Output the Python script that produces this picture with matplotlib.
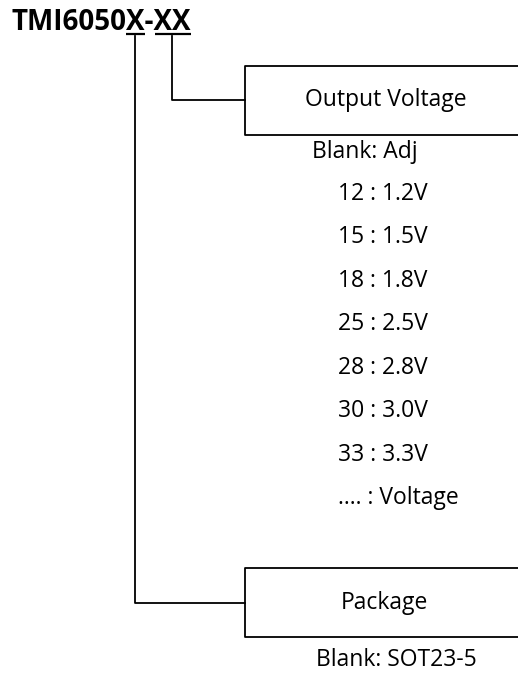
import matplotlib
matplotlib.use("Agg")
import matplotlib.pyplot as plt

title_prefix = "TMI6050"
title_parts = ["X", "-", "XX"]
field_labels = ["Output Voltage", "Package"]
voltage_codes = ["Blank: Adj", "12 : 1.2V", "15 : 1.5V", "18 : 1.8V", "25 : 2.5V",
                 "28 : 2.8V", "30 : 3.0V", "33 : 3.3V", "…. : Voltage"]
package_codes = ["Blank: SOT23-5"]

plt.rcParams['font.family'] = ['Open Sans', 'DejaVu Sans']

W, H = 518, 688
fig = plt.figure(figsize=(W / 100, H / 100), dpi=100)
ax = fig.add_axes([0, 0, 1, 1])
ax.set_xlim(0, W)
ax.set_ylim(H, 0)
ax.axis('off')

lw = 1.3
c = 'black'
renderer = fig.canvas.get_renderer()

# title, with underlines under the variable fields
title_kw = dict(fontsize=20, fontweight='bold', ha='left', va='baseline', color=c)
x0 = 11
full = title_prefix + "".join(title_parts)
ax.text(x0, 30, full, **title_kw)

def width_of(s):
    t = ax.text(0, 0, s, **title_kw)
    bb = t.get_window_extent(renderer)
    t.remove()
    return bb.width

s1 = title_prefix
s2 = s1 + title_parts[0]
s3 = s2 + title_parts[1]
s4 = s3 + title_parts[2]
ux = [x0 + width_of(s) for s in (s1, s2, s3, s4)]
ax.plot([ux[0], ux[1]], [34, 34], color=c, lw=1.6, solid_capstyle='butt')
ax.plot([ux[2] + 1, ux[3]], [34, 34], color=c, lw=1.6, solid_capstyle='butt')

xa = (ux[0] + ux[1]) / 2
xb = (ux[2] + ux[3]) / 2

# connectors
ax.plot([xa, xa, 245], [36, 603, 603], color=c, lw=lw)
ax.plot([xb, xb, 245], [36, 100, 100], color=c, lw=lw)

# boxes (open on the right, extending past the edge)
ax.plot([530, 245, 245, 530], [66, 66, 135, 135], color=c, lw=lw)
ax.plot([530, 245, 245, 530], [568, 568, 637, 637], color=c, lw=lw)

fs = 16.5
ax.text(386, 100, field_labels[0], fontsize=fs, ha='center', va='center', color=c)
ax.text(384, 603, field_labels[1], fontsize=fs, ha='center', va='center', color=c)

ys = [152, 194, 237, 281, 324, 368, 411, 455, 498]
for i, (s, y) in enumerate(zip(voltage_codes, ys)):
    x = 312 if i == 0 else 338
    ax.text(x, y, s, fontsize=fs, ha='left', va='center', color=c)

ax.text(396, 660, package_codes[0], fontsize=fs, ha='center', va='center', color=c)

fig.savefig("out.png", dpi=100)
